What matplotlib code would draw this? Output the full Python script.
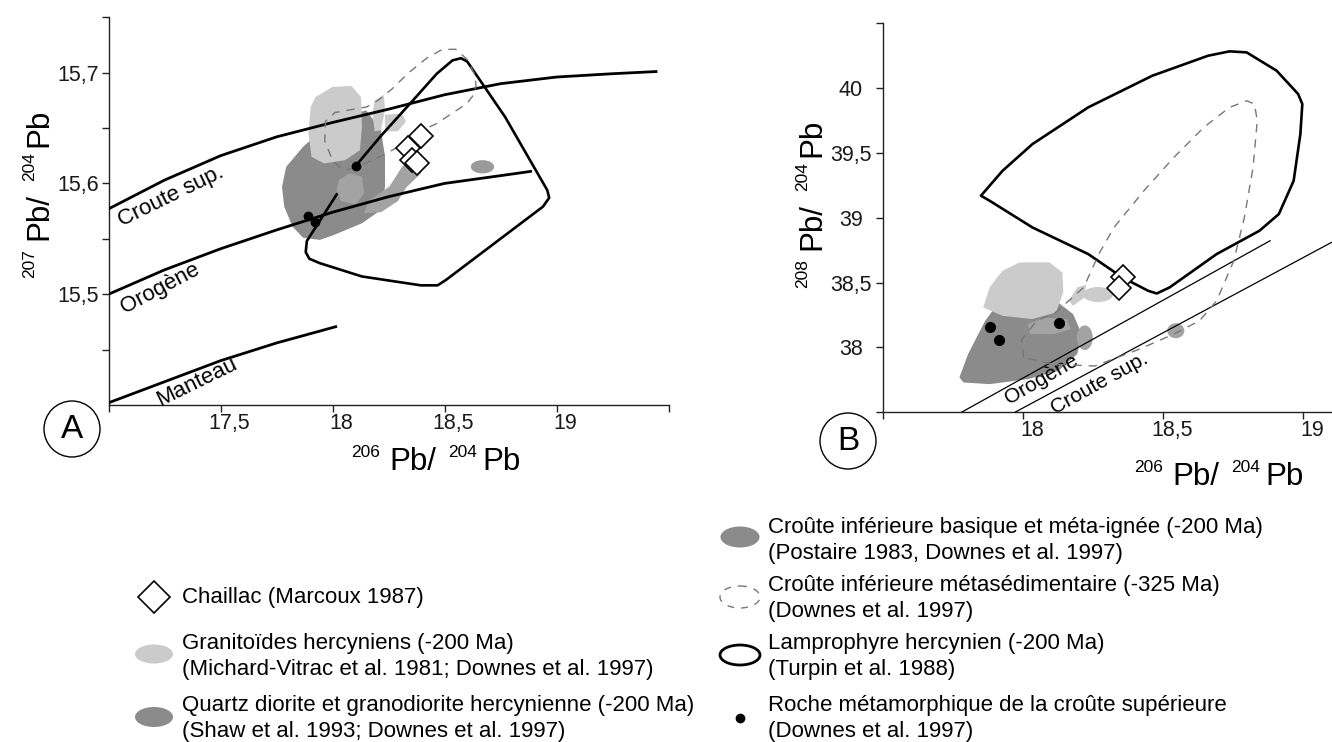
import matplotlib.pyplot as plt
from matplotlib.patches import Ellipse, Polygon
from matplotlib.transforms import ScaledTranslation

plt.rcParams['font.family'] = ['Liberation Sans', 'DejaVu Sans']

GRIS_CLAIR = '#cbcbcb'
GRIS_FONCE = '#8b8b8b'
GRIS_MOYEN = '#a3a3a3'

# ---------- diagramme A : 207Pb/204Pb en fonction de 206Pb/204Pb ----------
a_crsup_x = [17.0, 17.25, 17.5, 17.75, 18.0, 18.25, 18.5, 18.75, 19.0, 19.25, 19.45]
a_crsup_y = [15.577, 15.603, 15.625, 15.642, 15.655, 15.667, 15.680, 15.690, 15.696, 15.699, 15.701]
a_orog_x = [17.0, 17.25, 17.5, 17.75, 18.0, 18.25, 18.5, 18.75, 18.89]
a_orog_y = [15.500, 15.522, 15.541, 15.558, 15.574, 15.588, 15.600, 15.607, 15.611]
a_mant_x = [17.0, 17.25, 17.5, 17.75, 18.02]
a_mant_y = [15.402, 15.421, 15.440, 15.456, 15.471]

# lamprophyres (contour ouvert, cache par les granitoides)
a_lamp_x = [18.104, 18.212, 18.359, 18.465, 18.535, 18.573, 18.601, 18.770, 18.958, 18.967,
            18.939, 18.507, 18.469, 18.394, 18.131, 17.943, 17.896, 17.880, 17.885, 18.018]
a_lamp_y = [15.616, 15.642, 15.675, 15.699, 15.711, 15.713, 15.710, 15.660, 15.594, 15.587,
            15.579, 15.513, 15.508, 15.508, 15.516, 15.528, 15.532, 15.538, 15.548, 15.590]

# croute inferieure metasedimentaire
a_meta_x = [18.100, 18.046, 18.002, 17.965, 17.968, 18.011, 18.152, 18.203, 18.264, 18.340,
            18.420, 18.490, 18.550, 18.600, 18.635, 18.640, 18.630, 18.599, 18.539, 18.465,
            18.390, 18.316, 18.241, 18.166]
a_meta_y = [15.614, 15.612, 15.620, 15.638, 15.656, 15.664, 15.669, 15.675, 15.685, 15.700,
            15.713, 15.721, 15.721, 15.712, 15.698, 15.688, 15.680, 15.672, 15.664, 15.654,
            15.647, 15.636, 15.627, 15.620]

# granitoides hercyniens
a_grani_x = [17.924, 17.999, 18.084, 18.127, 18.131, 18.122, 18.056, 17.962, 17.906, 17.892, 17.902]
a_grani_y = [15.678, 15.687, 15.688, 15.678, 15.651, 15.630, 15.621, 15.618, 15.624, 15.645, 15.669]
a_grani2_x = [18.188, 18.229, 18.234, 18.216, 18.188, 18.178]
a_grani2_y = [15.675, 15.680, 15.666, 15.648, 15.647, 15.663]
a_grani3_x = [18.234, 18.310, 18.328, 18.291, 18.234]
a_grani3_y = [15.662, 15.663, 15.656, 15.647, 15.647]

# quartz diorite et granodiorite
a_quartz_x = [17.774, 17.793, 17.868, 18.000, 18.150, 18.216, 18.234, 18.234, 18.216, 18.131,
              18.000, 17.943, 17.868, 17.821, 17.784]
a_quartz_y = [15.597, 15.615, 15.633, 15.657, 15.666, 15.648, 15.624, 15.597, 15.576, 15.564,
              15.553, 15.549, 15.551, 15.561, 15.579]

# croute inferieure basique
a_bas_x = [18.028, 18.075, 18.131, 18.141, 18.103, 18.037, 18.018]
a_bas_y = [15.603, 15.609, 15.606, 15.591, 15.581, 15.584, 15.594]
a_bas2_x = [18.141, 18.159, 18.253, 18.310, 18.366, 18.409, 18.394, 18.328, 18.291, 18.216]
a_bas2_y = [15.573, 15.584, 15.597, 15.615, 15.626, 15.621, 15.609, 15.596, 15.584, 15.574]
a_bas_ell = (18.669, 15.615, 0.104, 0.012)

a_roche_x = [18.104, 17.891, 17.921]
a_roche_y = [15.616, 15.571, 15.565]
a_chail_x = [18.393, 18.338, 18.353, 18.378]
a_chail_y = [15.643, 15.632, 15.621, 15.618]

# ---------- diagramme B : 208Pb/204Pb en fonction de 206Pb/204Pb ----------
b_orog_x = [17.781, 18.883]
b_orog_y = [37.501, 38.823]
b_crsup_x = [17.972, 19.104]
b_crsup_y = [37.501, 38.812]

b_lamp_x = [17.850, 17.927, 18.034, 18.233, 18.462, 18.661, 18.738, 18.799, 18.906, 18.983,
            18.998, 18.991, 18.967, 18.914, 18.845, 18.692, 18.524, 18.478, 18.447, 18.355,
            18.233, 18.034, 17.881]
b_lamp_y = [39.170, 39.362, 39.568, 39.851, 40.095, 40.249, 40.283, 40.275, 40.134, 39.954,
            39.877, 39.645, 39.285, 39.028, 38.900, 38.720, 38.463, 38.416, 38.437, 38.540,
            38.720, 38.925, 39.131]

b_meta_x = [18.003, 17.995, 18.049, 18.114, 18.217, 18.271, 18.325, 18.432, 18.539, 18.646,
            18.738, 18.799, 18.827, 18.837, 18.822, 18.791, 18.753, 18.692, 18.631, 18.539,
            18.416, 18.257, 18.110]
b_meta_y = [37.923, 38.058, 38.206, 38.265, 38.463, 38.720, 38.925, 39.208, 39.465, 39.697,
            39.851, 39.902, 39.877, 39.748, 39.388, 39.003, 38.668, 38.360, 38.206, 38.103,
            37.987, 37.857, 37.871]

b_quartz_x = [17.773, 17.804, 17.865, 17.927, 18.018, 18.110, 18.179, 18.210, 18.194, 18.126,
              18.018, 17.881, 17.788]
b_quartz_y = [37.769, 37.949, 38.206, 38.386, 38.437, 38.373, 38.257, 38.103, 37.949, 37.820,
              37.756, 37.717, 37.730]

b_grani_x = [17.858, 17.881, 17.927, 17.988, 18.095, 18.141, 18.144, 18.118, 18.034, 17.927]
b_grani_y = [38.308, 38.463, 38.591, 38.656, 38.656, 38.578, 38.424, 38.270, 38.219, 38.244]
b_grani2_x = [18.164, 18.194, 18.225, 18.220, 18.179]
b_grani2_y = [38.360, 38.463, 38.483, 38.386, 38.321]
b_grani_ell = (18.268, 38.408, 0.107, 0.116)

b_bas_x = [18.018, 18.080, 18.156, 18.171, 18.110, 18.026]
b_bas_y = [38.180, 38.231, 38.219, 38.141, 38.103, 38.103]
b_bas_ell = [(18.221, 38.075, 0.057, 0.19), (18.546, 38.129, 0.061, 0.116)]

b_roche_x = [17.882, 17.914, 18.129]
b_roche_y = [38.157, 38.057, 38.188]
b_chail_x = [18.357, 18.343]
b_chail_y = [38.545, 38.458]

# graduations
a_xticks = [17.0, 17.5, 18.0, 18.5, 19.0, 19.5]
a_xlabels = ['', '17,5', '18', '18,5', '19', '']
a_yticks = [15.45, 15.5, 15.55, 15.6, 15.65, 15.7, 15.75]
a_ylabels = ['', '15,5', '', '15,6', '', '15,7', '']
b_xticks = [17.5, 18.0, 18.5, 19.0]
b_xlabels = ['', '18', '18,5', '19']
b_yticks = [37.5, 38.0, 38.5, 39.0, 39.5, 40.0, 40.5]
b_ylabels = ['', '38', '38,5', '39', '39,5', '40', '']

legende_g = [('Chaillac (Marcoux 1987)', ''),
             ('Granitoïdes hercyniens (-200 Ma)', '(Michard-Vitrac et al. 1981; Downes et al. 1997)'),
             ('Quartz diorite et granodiorite hercynienne (-200 Ma)', '(Shaw et al. 1993; Downes et al. 1997)')]
legende_d = [('Croûte inférieure basique et méta-ignée (-200 Ma)', '(Postaire 1983, Downes et al. 1997)'),
             ('Croûte inférieure métasédimentaire (-325 Ma)', '(Downes et al. 1997)'),
             ('Lamprophyre hercynien (-200 Ma)', '(Turpin et al. 1988)'),
             ('Roche métamorphique de la croûte supérieure', '(Downes et al. 1997)')]

fig = plt.figure(figsize=(13.32, 7.42), dpi=100)

# fond en pixels pour legende, lettres et titres d'axes
fond = fig.add_axes([0, 0, 1, 1])
fond.set_xlim(0, 1332)
fond.set_ylim(742, 0)
fond.axis('off')

axA = fig.add_axes([108.6 / 1332, 337 / 742, 560 / 1332, 387.8 / 742])
axB = fig.add_axes([883 / 1332, 329.7 / 742, 449 / 1332, 389.1 / 742])


def habiller(ax, xlim, ylim, xt, xl, yt, yl, ypad, ycentre):
    ax.set_xlim(xlim)
    ax.set_ylim(ylim)
    ax.patch.set_alpha(0)
    ax.spines['top'].set_visible(False)
    ax.spines['right'].set_visible(False)
    for s in ['left', 'bottom']:
        ax.spines[s].set_linewidth(1.0)
        ax.spines[s].set_color('#222222')
    ax.set_xticks(xt)
    ax.set_xticklabels(xl)
    ax.set_yticks(yt)
    ax.set_yticklabels(yl)
    ax.tick_params(direction='out', length=5, width=1.0, color='#222222',
                   labelsize=15.5, labelcolor='#1a1a1a')
    ax.tick_params(axis='x', pad=0.5)
    ax.tick_params(axis='y', pad=ypad)
    decal = ScaledTranslation(0.09, 0, fig.dpi_scale_trans)
    for lab in ax.get_xticklabels():
        lab.set_transform(lab.get_transform() + decal)
    if ycentre:
        for lab in ax.get_yticklabels():
            lab.set_ha('center')


habiller(axA, (17.0, 19.5), (15.40, 15.75), a_xticks, a_xlabels, a_yticks, a_ylabels, 2.0, False)
habiller(axB, (17.5, 19.104), (37.5, 40.5), b_xticks, b_xlabels, b_yticks, b_ylabels, 18.0, True)


def zone(ax, xs, ys, couleur, z):
    ax.add_patch(Polygon(list(zip(xs, ys)), closed=True, facecolor=couleur,
                         edgecolor='none', zorder=z, joinstyle='round'))


# --- A ---
zone(axA, a_quartz_x, a_quartz_y, GRIS_FONCE, 1)
zone(axA, a_bas_x, a_bas_y, GRIS_MOYEN, 2)
zone(axA, a_bas2_x, a_bas2_y, GRIS_MOYEN, 2)
cx, cy, w, h = a_bas_ell
axA.add_patch(Ellipse((cx, cy), w, h, facecolor='#9a9a9a', edgecolor='none', zorder=2))
zone(axA, a_grani_x, a_grani_y, GRIS_CLAIR, 3)
zone(axA, a_grani2_x, a_grani2_y, GRIS_CLAIR, 3)
zone(axA, a_grani3_x, a_grani3_y, GRIS_CLAIR, 3)

for xs, ys in [(a_crsup_x, a_crsup_y), (a_orog_x, a_orog_y), (a_mant_x, a_mant_y)]:
    axA.plot(xs, ys, color='black', lw=2.0, zorder=4, solid_capstyle='butt')
axA.plot(a_lamp_x, a_lamp_y, color='black', lw=1.9, zorder=4, solid_joinstyle='round')
axA.add_patch(Polygon(list(zip(a_meta_x, a_meta_y)), closed=True, fill=False,
                      edgecolor='#777777', lw=1.0, ls=(0, (6, 5)), zorder=5))
axA.plot(a_roche_x, a_roche_y, 'o', color='black', ms=6, zorder=6)
axA.plot(a_chail_x, a_chail_y, 'D', ms=12.5, mfc='white', mec='black', mew=1.2,
         ls='none', zorder=7)

axA.text(17.280, 15.588, 'Croute sup.', rotation=26, fontsize=16, ha='center', va='center')
axA.text(17.229, 15.505, 'Orogène', rotation=28, fontsize=16, ha='center', va='center')
axA.text(17.393, 15.421, 'Manteau', rotation=26, fontsize=16, ha='center', va='center')

# --- B ---
zone(axB, b_quartz_x, b_quartz_y, GRIS_FONCE, 1)
zone(axB, b_bas_x, b_bas_y, GRIS_MOYEN, 2)
for cx, cy, w, h in b_bas_ell:
    axB.add_patch(Ellipse((cx, cy), w, h, facecolor=GRIS_MOYEN, edgecolor='none', zorder=2))
zone(axB, b_grani_x, b_grani_y, GRIS_CLAIR, 3)
zone(axB, b_grani2_x, b_grani2_y, GRIS_CLAIR, 3)
cx, cy, w, h = b_grani_ell
axB.add_patch(Ellipse((cx, cy), w, h, facecolor=GRIS_CLAIR, edgecolor='none', zorder=3))

axB.plot(b_orog_x, b_orog_y, color='black', lw=0.9, zorder=4)
axB.plot(b_crsup_x, b_crsup_y, color='black', lw=0.9, zorder=4, clip_on=False)
axB.add_patch(Polygon(list(zip(b_lamp_x, b_lamp_y)), closed=True, fill=False,
                      edgecolor='black', lw=1.9, zorder=4, joinstyle='round'))
axB.add_patch(Polygon(list(zip(b_meta_x, b_meta_y)), closed=True, fill=False,
                      edgecolor='#777777', lw=1.0, ls=(0, (6, 5)), zorder=5))
axB.plot(b_roche_x, b_roche_y, 'o', color='black', ms=7, zorder=6)
axB.plot(b_chail_x, b_chail_y, 'D', ms=12.5, mfc='white', mec='black', mew=1.2,
         ls='none', zorder=7)

axB.text(18.067, 37.757, 'Orogène', rotation=30, fontsize=15, ha='center', va='center')
axB.text(18.275, 37.722, 'Croute sup.', rotation=29, fontsize=15, ha='center', va='center')


# --- titres des axes (exposants dessines a part) ---
def titre_h(x0, base, num1, num2):
    fond.text(x0, base - 13, num1, fontsize=12.5, ha='left', va='baseline')
    fond.text(x0 + 38, base, 'Pb/', fontsize=22.5, ha='left', va='baseline')
    fond.text(x0 + 97, base - 13, num2, fontsize=12.5, ha='left', va='baseline')
    fond.text(x0 + 131, base, 'Pb', fontsize=22.5, ha='left', va='baseline')


def titre_v(base, y0, num1, num2):
    kw = dict(rotation=90, rotation_mode='anchor', ha='left', va='baseline')
    fond.text(base - 13, y0, num1, fontsize=12.5, **kw)
    fond.text(base, y0 - 38, 'Pb/', fontsize=22.5, **kw)
    fond.text(base - 13, y0 - 97, num2, fontsize=12.5, **kw)
    fond.text(base, y0 - 131, 'Pb', fontsize=22.5, **kw)


titre_h(351, 470, '206', '204')
titre_h(1134, 485, '206', '204')
titre_v(47, 278, '207', '204')
titre_v(820, 288, '208', '204')

# lettres cerclees
for (cx, cy), lettre in [((72, 429), 'A'), ((848, 441), 'B')]:
    fond.add_patch(Ellipse((cx, cy), 56, 56, fill=False, edgecolor='black', lw=1.0))
    fond.text(cx, cy + 1, lettre, fontsize=24, ha='center', va='center')

# --- legende ---
fond.plot([154], [597], 'D', ms=16, mfc='white', mec='black', mew=1.2)
fond.add_patch(Ellipse((154, 654), 38, 19, facecolor=GRIS_CLAIR, edgecolor='none'))
fond.add_patch(Ellipse((154, 717), 38, 20, facecolor=GRIS_FONCE, edgecolor='none'))
fond.add_patch(Ellipse((740, 537), 39, 21, facecolor=GRIS_FONCE, edgecolor='none'))
fond.add_patch(Ellipse((740, 597), 40, 22, fill=False, edgecolor='#777777', lw=1.0,
                       ls=(0, (5, 5))))
fond.add_patch(Ellipse((740, 655), 40, 20, fill=False, edgecolor='black', lw=2.0))
fond.plot([740], [718], 'o', color='black', ms=6)

lignes_g = [598, 643, 706]
for (l1, l2), y in zip(legende_g, lignes_g):
    fond.text(182, y, l1, fontsize=16, ha='left', va='center')
    if l2:
        fond.text(182, y + 26, l2, fontsize=16, ha='left', va='center')
lignes_d = [527, 585, 643, 705]
for (l1, l2), y in zip(legende_d, lignes_d):
    fond.text(768, y, l1, fontsize=16, ha='left', va='center')
    fond.text(768, y + 26, l2, fontsize=16, ha='left', va='center')

fig.savefig('out.png', dpi=100)
